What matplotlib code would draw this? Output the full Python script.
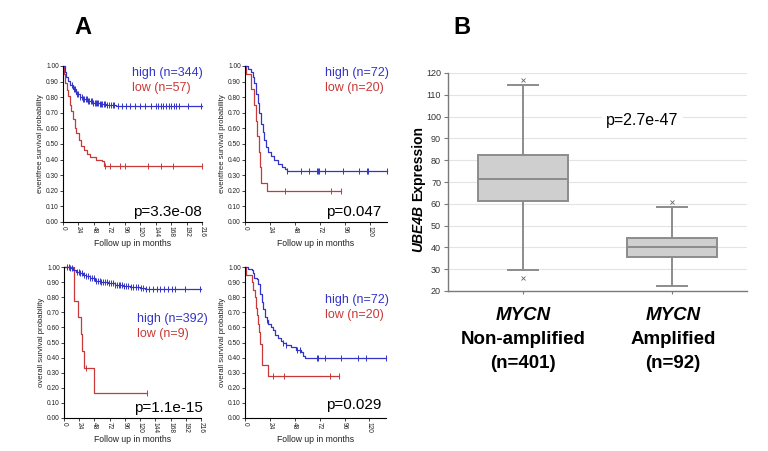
import numpy as np
import matplotlib.pyplot as plt

plt.rcParams['font.family'] = ['Liberation Sans', 'DejaVu Sans']

W, H = 768, 451
BLUE = '#3434c8'
RED = '#c83a3a'
GREY = '#8c8c8c'

# ---- Panel A: Kaplan-Meier steps (months, survival probability) ----
# top left: eventfree, high n=344 / low n=57
efs1_high_t = [0, 2.6, 5.2, 7.8, 11.4, 15.6, 20.8, 26, 31, 39, 46.7, 57, 67.5, 83]
efs1_high_s = [1.0, 0.96, 0.93, 0.905, 0.877, 0.85, 0.823, 0.80, 0.787, 0.775, 0.766, 0.755, 0.747, 0.742]
efs1_high_end = 216
efs1_high_cens = [14, 17, 19, 22, 24, 27, 29, 31, 33, 35, 37, 39, 41, 43, 45, 47, 49, 51, 53, 55,
                  57, 59, 61, 63, 65, 68, 71, 74, 77, 80, 86, 92, 98, 104, 112, 120, 128, 136,
                  144, 148, 152, 156, 160, 164, 168, 172, 176, 181, 194, 215]
efs1_low_t = [0, 1.6, 3.6, 6.2, 7.8, 10.4, 13, 15.6, 18, 20.8, 25, 28.5, 32.7, 37.4, 42.6, 52, 60, 63]
efs1_low_s = [1.0, 0.95, 0.89, 0.845, 0.81, 0.75, 0.71, 0.66, 0.60, 0.57, 0.525, 0.49, 0.46, 0.435,
              0.415, 0.40, 0.39, 0.36]
efs1_low_end = 216
efs1_low_cens = [65, 73, 88, 97, 132, 152, 171, 216]

# top right: eventfree, high n=72 / low n=20
efs2_high_t = [0, 3.2, 5.8, 7.4, 9, 10.6, 12.2, 13.8, 15.4, 17, 18.6, 20.2, 22.4, 25, 28, 32, 35, 38.4, 40]
efs2_high_s = [1.0, 0.98, 0.96, 0.93, 0.89, 0.82, 0.76, 0.70, 0.63, 0.58, 0.525, 0.48, 0.45, 0.42,
               0.40, 0.37, 0.355, 0.34, 0.33]
efs2_high_end = 136
efs2_high_cens = [40, 54, 61, 69, 70, 71, 77, 94, 109, 117, 118, 136]
efs2_low_t = [0, 1.3, 5.8, 9, 10.2, 11.8, 13, 14.4, 15.2, 21]
efs2_low_s = [1.0, 0.95, 0.85, 0.75, 0.65, 0.55, 0.45, 0.35, 0.25, 0.20]
efs2_low_end = 92
efs2_low_cens = [38, 82, 92]

# bottom left: overall, high n=392 / low n=9
os1_high_t = [0, 9, 14, 19.5, 25, 30, 35, 40.6, 48.6, 59, 70, 80, 93, 104, 120, 128]
os1_high_s = [1.0, 0.993, 0.982, 0.97, 0.96, 0.95, 0.94, 0.927, 0.91, 0.90, 0.894, 0.883, 0.874,
              0.867, 0.86, 0.853]
os1_high_end = 216
os1_high_cens = [5, 8, 10, 12, 20, 23, 26, 29, 32, 35, 38, 41, 44, 47, 50, 53, 56, 59, 62, 65,
                 68, 71, 74, 77, 80, 83, 86, 89, 92, 95, 98, 101, 105, 109, 113, 117, 121, 125,
                 129, 134, 140, 146, 152, 157, 164, 170, 175, 191, 215]
os1_low_t = [0, 16, 22, 26.5, 28.5, 31, 47.5]
os1_low_s = [1.0, 0.778, 0.667, 0.556, 0.444, 0.333, 0.167]
os1_low_end = 131
os1_low_cens = [34, 131]

# bottom right: overall, high n=72 / low n=20
os2_high_t = [0, 3.2, 6.4, 8, 9, 11.2, 12.8, 14.4, 16, 17.6, 19.2, 20.8, 22.4, 25, 27.2, 29.4, 32,
              34.6, 36.8, 40, 44.8, 49.6, 53.8, 56, 57.6]
os2_high_s = [1.0, 0.985, 0.977, 0.96, 0.93, 0.92, 0.89, 0.82, 0.77, 0.72, 0.67, 0.65, 0.62, 0.60,
              0.58, 0.55, 0.53, 0.51, 0.495, 0.485, 0.467, 0.45, 0.44, 0.41, 0.40]
os2_high_end = 136
os2_high_cens = [21, 37, 40, 50, 53, 69, 70, 77, 93, 109, 117, 136]
os2_low_t = [0, 0.6, 6.4, 8, 9.6, 10.6, 11.8, 12.8, 13.8, 14.7, 16, 22.4]
os2_low_s = [1.0, 0.95, 0.90, 0.85, 0.80, 0.73, 0.68, 0.62, 0.57, 0.49, 0.35, 0.28]
os2_low_end = 91
os2_low_cens = [27, 38, 82, 91]

pvals_a = ['p=3.3e-08', 'p=0.047', 'p=1.1e-15', 'p=0.029']
legend_a = [('high (n=344)', 'low (n=57)'), ('high (n=72)', 'low (n=20)'),
            ('high (n=392)', 'low (n=9)'), ('high (n=72)', 'low (n=20)')]

# ---- Panel B: UBE4B expression box plot ----
groups_b = ['Non-amplified', 'Amplified']
n_b = [401, 92]
whislo_b = [29.5, 22.5]
q1_b = [61.5, 35.5]
med_b = [71.5, 40.0]
q3_b = [82.5, 44.5]
whishi_b = [114.5, 58.5]
fliers_b = [[117.0, 26.0], [61.0]]
p_b = 'p=2.7e-47'


def px(x, y):
    return x / W, 1 - y / H


def km(ax, t, s, t_end, cens, color):
    x = list(t) + [t_end]
    y = list(s) + [s[-1]]
    ax.plot(x, y, drawstyle='steps-post', color=color, lw=0.9, clip_on=False)
    idx = np.searchsorted(t, cens, side='right') - 1
    ax.plot(cens, np.array(s)[idx], ls='none', marker='|', ms=4, mew=0.7,
            color=color, clip_on=False)


def setup_km(ax, xmax, xtop, ylabel):
    ax.set_xlim(0, xmax)
    ax.set_ylim(0, 1.0)
    for sp in ['top', 'right']:
        ax.spines[sp].set_visible(False)
    for sp in ['left', 'bottom']:
        ax.spines[sp].set_linewidth(0.8)
    yt = np.arange(0, 1.01, 0.1)
    ax.set_yticks(yt)
    ax.set_yticklabels(['%.2f' % v for v in yt])
    ax.set_xticks(range(0, xtop + 1, 24))
    ax.tick_params(labelsize=4.8, length=2, width=0.6, pad=1, colors='#222222')
    ax.tick_params(axis='x', labelrotation=-90)
    ax.set_ylabel(ylabel, fontsize=5.6, labelpad=1.5, color='#222222')
    ax.set_xlabel('Follow up in months', fontsize=6.2, labelpad=1.5, color='#222222')


fig = plt.figure(figsize=(W / 100, H / 100), dpi=100)

# axes rectangles in pixels: left, right, top, bottom
rects = [(63, 202, 66, 222), (245, 387, 66, 222), (64, 201, 267, 418), (245, 386, 267, 418)]
xmaxs = [216, 136, 216, 136]
xtops = [216, 120, 216, 120]
ylabels = ['eventfree survival probability', 'eventfree survival probability',
           'overall survival probability', 'overall survival probability']
curves = [
    ((efs1_high_t, efs1_high_s, efs1_high_end, efs1_high_cens),
     (efs1_low_t, efs1_low_s, efs1_low_end, efs1_low_cens)),
    ((efs2_high_t, efs2_high_s, efs2_high_end, efs2_high_cens),
     (efs2_low_t, efs2_low_s, efs2_low_end, efs2_low_cens)),
    ((os1_high_t, os1_high_s, os1_high_end, os1_high_cens),
     (os1_low_t, os1_low_s, os1_low_end, os1_low_cens)),
    ((os2_high_t, os2_high_s, os2_high_end, os2_high_cens),
     (os2_low_t, os2_low_s, os2_low_end, os2_low_cens)),
]
legend_pos = [(132, 73), (325, 73), (137, 319), (325, 300)]
pval_pos = [(202, 212), (381, 212), (203, 408), (381, 405)]

for i in range(4):
    l, r, t, b = rects[i]
    ax = fig.add_axes([l / W, 1 - b / H, (r - l) / W, (b - t) / H])
    setup_km(ax, xmaxs[i], xtops[i], ylabels[i])
    hi, lo = curves[i]
    km(ax, *lo, RED)
    km(ax, *hi, BLUE)
    lx, ly = legend_pos[i]
    fig.text(*px(lx, ly), legend_a[i][0], color=BLUE, fontsize=9, va='center')
    fig.text(*px(lx, ly + 15), legend_a[i][1], color=RED, fontsize=9, va='center')
    fig.text(*px(*pval_pos[i]), pvals_a[i], color='black', fontsize=11, va='center', ha='right')

# ---- Panel B ----
axb = fig.add_axes([448 / W, 1 - 291 / H, 299 / W, 218 / H])
stats = []
for k in range(2):
    stats.append(dict(med=med_b[k], q1=q1_b[k], q3=q3_b[k], whislo=whislo_b[k],
                      whishi=whishi_b[k], fliers=fliers_b[k], label=groups_b[k]))
axb.bxp(stats, positions=[1, 2], widths=0.6, capwidths=0.2, patch_artist=True,
        boxprops=dict(facecolor='#cfcfcf', edgecolor=GREY, linewidth=1.4),
        medianprops=dict(color=GREY, linewidth=1.4),
        whiskerprops=dict(color=GREY, linewidth=1.4),
        capprops=dict(color=GREY, linewidth=1.4),
        flierprops=dict(marker='x', markersize=2.5, markeredgecolor='#666666', markeredgewidth=0.6),
        zorder=3)
axb.set_xlim(0.5, 2.5)
axb.set_ylim(20, 120)
axb.set_yticks(range(20, 121, 10))
axb.set_xticks([1, 2])
axb.set_xticklabels(['', ''])
axb.yaxis.grid(True, color='#e4e4e4', lw=0.8, zorder=0)
axb.set_axisbelow(True)
for sp in ['top', 'right']:
    axb.spines[sp].set_visible(False)
for sp in ['left', 'bottom']:
    axb.spines[sp].set_color('#7a7a7a')
    axb.spines[sp].set_linewidth(1.0)
axb.tick_params(axis='y', labelsize=6.5, length=3, width=0.8, color='#7a7a7a', labelcolor='#333333', pad=2)
axb.tick_params(axis='x', length=2, width=0.8, color='#7a7a7a')
axb.text(1.8, 98, p_b, fontsize=11.5, ha='center', va='center', zorder=4,
         bbox=dict(facecolor='white', edgecolor='none', pad=3))

# y label: italic gene name + plain word
fig.text(*px(418, 205), 'UBE4B', rotation=90, fontsize=10, fontweight='bold', style='italic',
         ha='center', va='top')
fig.text(*px(418, 201), 'Expression', rotation=90, fontsize=10, fontweight='bold',
         ha='center', va='bottom')

for k, cx in enumerate([523, 673]):
    fig.text(*px(cx, 315), 'MYCN', fontsize=13.5, fontweight='bold', style='italic',
             ha='center', va='center')
    fig.text(*px(cx, 339), groups_b[k], fontsize=13.5, fontweight='bold', ha='center', va='center')
    fig.text(*px(cx, 363), '(n=%d)' % n_b[k], fontsize=13.5, fontweight='bold', ha='center', va='center')

fig.text(*px(83, 27), 'A', fontsize=17, fontweight='bold', ha='center', va='center')
fig.text(*px(462, 27), 'B', fontsize=17, fontweight='bold', ha='center', va='center')

fig.savefig('out.png', dpi=100)
